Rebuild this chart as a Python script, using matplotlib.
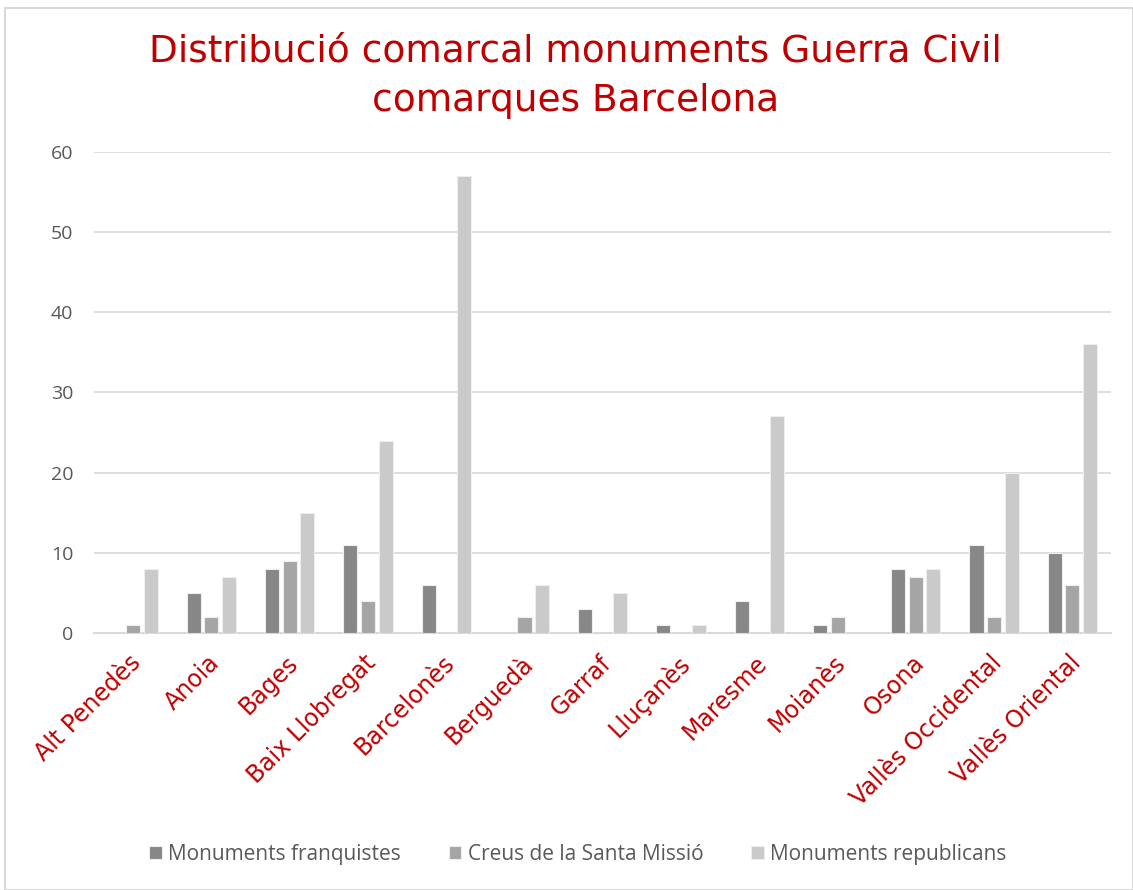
import numpy as np
import matplotlib.pyplot as plt
import matplotlib.transforms as mtransforms
from matplotlib.patches import Rectangle

comarques = ["Alt Penedès", "Anoia", "Bages", "Baix Llobregat", "Barcelonès",
             "Berguedà", "Garraf", "Lluçanès", "Maresme", "Moianès", "Osona",
             "Vallès Occidental", "Vallès Oriental"]
franquistes = [0, 5, 8, 11, 6, 0, 3, 1, 4, 1, 8, 11, 10]
creus = [1, 2, 9, 4, 0, 2, 0, 0, 0, 2, 7, 2, 6]
republicans = [8, 7, 15, 24, 57, 6, 5, 1, 27, 0, 8, 20, 36]

series = [
    ("Monuments franquistes", franquistes, "#878787"),
    ("Creus de la Santa Missió", creus, "#a5a5a5"),
    ("Monuments republicans", republicans, "#cacaca"),
]

red = "#c00000"
fig = plt.figure(figsize=(11.33, 8.90), dpi=100)
ax = fig.add_axes([0.083, 0.2888, 0.898, 0.5405])

x = np.arange(len(comarques))
w = 0.18
for i, (name, vals, col) in enumerate(series):
    ax.bar(x + (i - 1) * 0.225, vals, width=w, color=col, edgecolor="#eeeeee",
           linewidth=0.8, label=name, zorder=3)

ax.set_xlim(-0.5, len(comarques) - 0.5)
ax.set_ylim(0, 60)
ax.set_yticks(range(0, 61, 10))
ax.grid(axis="y", color="#d9d9d9", linewidth=1.2, zorder=0)
for s in ["top", "right", "left"]:
    ax.spines[s].set_visible(False)
ax.spines["bottom"].set_color("#d9d9d9")
ax.spines["bottom"].set_linewidth(1.5)
ax.tick_params(axis="both", length=0)
ax.tick_params(axis="y", labelsize=14, labelcolor="#595959", pad=15)
for lab in ax.get_yticklabels():
    lab.set_family("Open Sans")

ax.set_xticks(x)
ax.set_xticklabels(comarques, rotation=45, ha="right", va="top",
                   rotation_mode="anchor", fontsize=17, color=red)
offset = mtransforms.ScaledTranslation(-0.04, -0.13, fig.dpi_scale_trans)
for lab in ax.get_xticklabels():
    lab.set_transform(lab.get_transform() + offset)

fig.text(0.508, 0.942, "Distribució comarcal monuments Guerra Civil",
         ha="center", va="center", fontsize=27, color=red)
fig.text(0.508, 0.887, "comarques Barcelona",
         ha="center", va="center", fontsize=27, color=red)

leg = fig.legend(loc="center", bbox_to_anchor=(0.51, 0.04), ncol=3,
                 frameon=False, prop={"family": "Open Sans", "size": 15},
                 handlelength=0.6, handleheight=0.6,
                 columnspacing=2.3, handletextpad=0.3)
for t in leg.get_texts():
    t.set_color("#595959")

fig.patches.append(Rectangle((0.004, 0.0), 0.996, 0.991, transform=fig.transFigure,
                             fill=False, edgecolor="#d9d9d9", linewidth=1.5))

fig.savefig("out.png", dpi=100)
